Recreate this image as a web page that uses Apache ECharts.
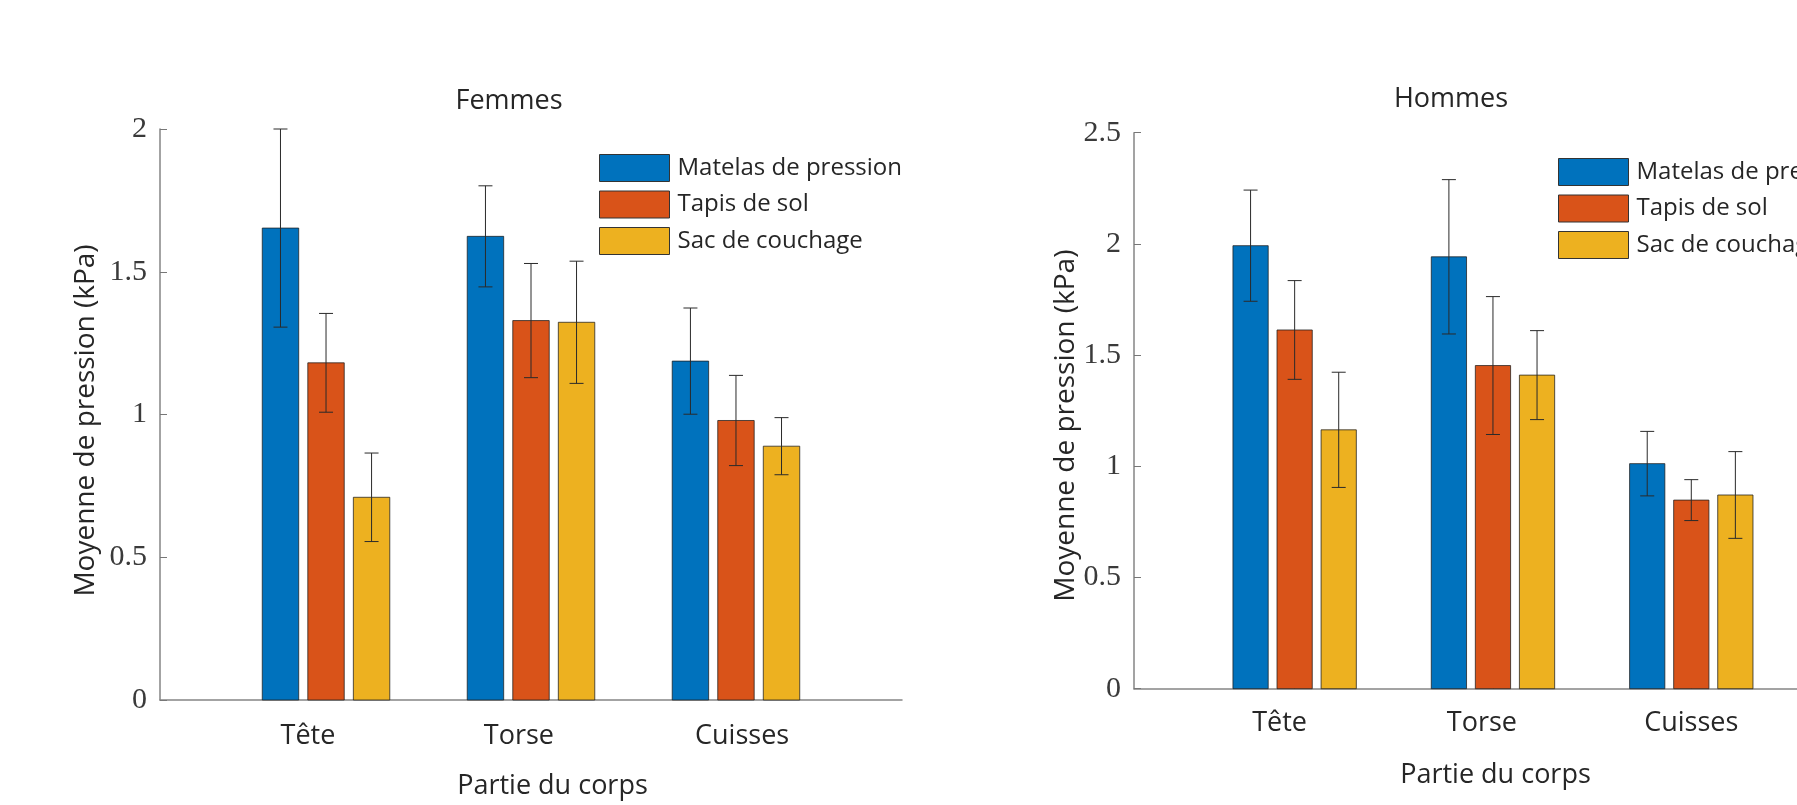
<!DOCTYPE html>
<html>
<head>
<meta charset="utf-8">
<script src="https://cdn.jsdelivr.net/npm/echarts@6/dist/echarts.min.js"></script>
<style>
html,body{margin:0;padding:0;background:#fff;}
#chart{width:1797px;height:805px;}
</style>
</head>
<body>
<div id="chart"></div>
<script>
// ---------- data ----------
const categories = ['Tête', 'Torse', 'Cuisses'];
const seriesNames = ['Matelas de pression', 'Tapis de sol', 'Sac de couchage'];
const panelTitles = ['Femmes', 'Hommes'];
const yTitle = 'Moyenne de pression (kPa)';
const xTitle = 'Partie du corps';

// Femmes : mean values and error (±)
const femmesMatelas    = [1.653, 1.624, 1.187];
const femmesMatelasErr = [0.347, 0.177, 0.186];
const femmesTapis      = [1.181, 1.329, 0.979];
const femmesTapisErr   = [0.173, 0.200, 0.158];
const femmesSac        = [0.710, 1.323, 0.889];
const femmesSacErr     = [0.155, 0.214, 0.100];

// Hommes : mean values and error (±)
const hommesMatelas    = [1.992, 1.942, 1.012];
const hommesMatelasErr = [0.250, 0.347, 0.145];
const hommesTapis      = [1.613, 1.453, 0.848];
const hommesTapisErr   = [0.222, 0.310, 0.092];
const hommesSac        = [1.164, 1.410, 0.871];
const hommesSacErr     = [0.259, 0.200, 0.195];

const yMaxFemmes = 2;
const yMaxHommes = 2.5;
const yStep = 0.5;

// ---------- styling ----------
const colors = ['#0072BD', '#D95319', '#EDB120'];
const sans = 'Open Sans';
const serif = 'Liberation Serif';
const offsets = [-0.2222, 0, 0.2222];
const barW = 0.1778;

const panels = [
  { vals: [femmesMatelas, femmesTapis, femmesSac], errs: [femmesMatelasErr, femmesTapisErr, femmesSacErr] },
  { vals: [hommesMatelas, hommesTapis, hommesSac], errs: [hommesMatelasErr, hommesTapisErr, hommesSacErr] }
];

function makeRender(k) {
  return function (params, api) {
    const x = api.value(0) + offsets[k];
    const v = api.value(1);
    const e = api.value(2);
    const base = api.coord([x, 0]);
    const top = api.coord([x, v]);
    const hi = api.coord([x, v + e]);
    const lo = api.coord([x, v - e]);
    const w = api.size([barW, 0])[0];
    const cap = 7;
    return {
      type: 'group',
      children: [
        { type: 'rect', shape: { x: top[0] - w / 2, y: top[1], width: w, height: base[1] - top[1] },
          style: { fill: colors[k], stroke: 'rgba(30,30,30,0.75)', lineWidth: 1 } },
        { type: 'line', shape: { x1: hi[0], y1: hi[1], x2: lo[0], y2: lo[1] },
          style: { stroke: '#2a2a2a', lineWidth: 1 }, z2: 10 },
        { type: 'line', shape: { x1: hi[0] - cap, y1: hi[1], x2: hi[0] + cap, y2: hi[1] },
          style: { stroke: '#2a2a2a', lineWidth: 1 }, z2: 10 },
        { type: 'line', shape: { x1: lo[0] - cap, y1: lo[1], x2: lo[0] + cap, y2: lo[1] },
          style: { stroke: '#2a2a2a', lineWidth: 1 }, z2: 10 }
      ]
    };
  };
}

const series = [];
panels.forEach((p, c) => {
  for (let k = 0; k < 3; k++) {
    series.push({
      type: 'custom',
      name: seriesNames[k],
      xAxisIndex: c,
      yAxisIndex: c,
      itemStyle: { color: colors[k] },
      data: categories.map((cat, i) => [i + 1, p.vals[k][i], p.errs[k][i]]),
      renderItem: makeRender(k)
    });
  }
});

const axisLineStyle = { color: '#858585', width: 1.5 };

function xAxisFor(gridIndex, xMax, labelPos, labelMargin, namePad) {
  return {
    type: 'value', gridIndex: gridIndex, min: 0.19, max: xMax,
    splitLine: { show: false },
    axisLine: { show: true, onZero: false, lineStyle: axisLineStyle },
    axisTick: { show: true, inside: true, length: 7, customValues: [1, 2, 3], lineStyle: { color: '#666' } },
    axisLabel: {
      customValues: labelPos,
      formatter: v => categories[Math.round(v) - 1],
      margin: labelMargin,
      color: '#262626', fontFamily: sans, fontSize: 27
    },
    name: xTitle, nameLocation: 'middle', nameGap: 73,
    nameTextStyle: { color: '#262626', fontFamily: sans, fontSize: 27, padding: namePad }
  };
}

function yAxisFor(gridIndex, max, nameGap, namePad) {
  return {
    type: 'value', gridIndex: gridIndex, min: 0, max: max, interval: yStep,
    splitLine: { show: false },
    axisLine: { show: true, lineStyle: axisLineStyle },
    axisTick: { show: true, inside: true, length: 7, lineStyle: { color: '#777' } },
    axisLabel: { margin: 13, color: '#3a3a3a', fontFamily: serif, fontSize: 30 },
    name: yTitle, nameLocation: 'middle', nameGap: nameGap,
    nameTextStyle: { color: '#262626', fontFamily: sans, fontSize: 28, padding: namePad }
  };
}

function legendFor(left, top) {
  return {
    orient: 'vertical', left: left, top: top, padding: 0,
    itemWidth: 70, itemHeight: 27, itemGap: 8.5,
    icon: 'rect',
    selectedMode: false,
    textStyle: { color: '#262626', fontFamily: sans, fontSize: 24, padding: [0, 0, 0, 3] },
    data: seriesNames.map((n, k) => ({ name: n, itemStyle: { color: colors[k], borderColor: '#333', borderWidth: 1 } }))
  };
}

const option = {
  animation: false,
  backgroundColor: '#ffffff',
  grid: [
    { left: 160, top: 129, width: 742, height: 572.7 },
    { left: 1134, top: 132.7, width: 663, height: 556 }
  ],
  xAxis: [
    xAxisFor(0, 3.81, [0.912, 1.941, 3.03], 23, [0, 0, 0, 43]),
    xAxisFor(1, 3.533, [0.924, 1.944, 3.0], 21, [0, 0, 0, 60])
  ],
  yAxis: [
    yAxisFor(0, yMaxFemmes, 60, [0, 12, 0, 0]),
    yAxisFor(1, yMaxHommes, 49, [0, 30, 0, 0])
  ],
  legend: [legendFor(599, 154), legendFor(1558, 158)],
  graphic: [
    { type: 'text', x: 509, y: 101, style: { text: panelTitles[0], align: 'center', verticalAlign: 'middle', fill: '#262626', font: '27px "Open Sans"' } },
    { type: 'text', x: 1451, y: 99, style: { text: panelTitles[1], align: 'center', verticalAlign: 'middle', fill: '#262626', font: '27px "Open Sans"' } }
  ],
  series: series
};

const chart = echarts.init(document.getElementById('chart'), null, { renderer: 'canvas' });
chart.setOption(option);
</script>
</body>
</html>
